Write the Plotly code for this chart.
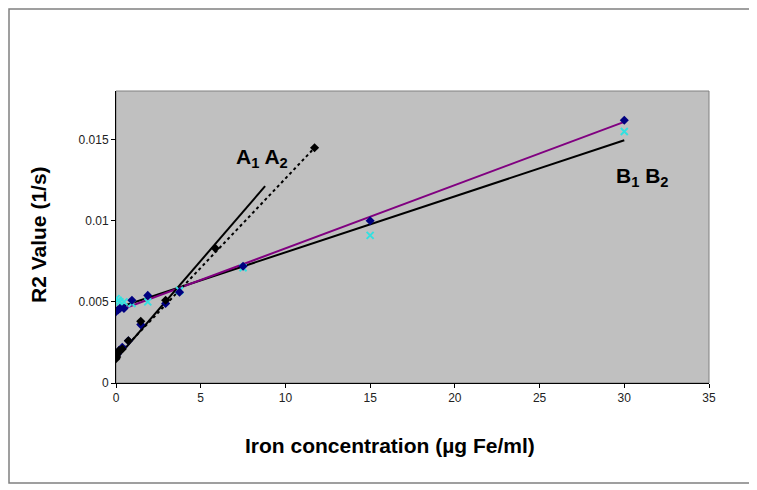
import plotly.graph_objects as go

# --- data ---
a_x = [0, 0.046, 0.09, 0.18, 0.37, 0.73, 1.46, 2.93, 5.86, 11.72]
a2_y = [0.0015, 0.0016, 0.0018, 0.0020, 0.0021, 0.0026, 0.0038, 0.0051, 0.0083, 0.0145]
a1_x = [0, 0.09, 0.18, 0.37, 0.73, 1.46, 2.93]
a1_y = [0.0017, 0.0018, 0.0020, 0.0022, 0.0026, 0.0036, 0.0049]

b_x = [0, 0.12, 0.23, 0.47, 0.94, 1.875, 3.75, 7.5, 15, 30]
b1_y = [0.0044, 0.0045, 0.0046, 0.0046, 0.0051, 0.0054, 0.0056, 0.0072, 0.0100, 0.0162]
b2_y = [0.0052, 0.0051, 0.0050, 0.0050, 0.0049, 0.0050, 0.0057, 0.0071, 0.0091, 0.0155]

# trendline end points
trend_a1_x, trend_a1_y = [0, 8.8], [0.00148, 0.01213]
trend_a2_x, trend_a2_y = [0, 11.72], [0.0016, 0.0145]
trend_b1_x, trend_b1_y = [0, 30], [0.0044, 0.0161]
trend_b2_x, trend_b2_y = [0, 30], [0.0046, 0.01496]

x_ticks = [0, 5, 10, 15, 20, 25, 30, 35]
y_ticks = [0, 0.005, 0.01, 0.015]
y_tick_text = ["0", "0.005", "0.01", "0.015"]

FONT = "Arial, Liberation Sans, sans-serif"

# page has an 8px body margin, so the figure starts at (8, 8)
PLOT_W, PLOT_H = 593, 292
L, T = 108, 83

fig = go.Figure()

# trendlines
fig.add_trace(go.Scatter(x=trend_b2_x, y=trend_b2_y, mode="lines",
                         line=dict(color="black", width=2)))
fig.add_trace(go.Scatter(x=trend_b1_x, y=trend_b1_y, mode="lines",
                         line=dict(color="#800080", width=2)))
fig.add_trace(go.Scatter(x=trend_a2_x, y=trend_a2_y, mode="lines",
                         line=dict(color="black", width=2, dash="dot")))
fig.add_trace(go.Scatter(x=trend_a1_x, y=trend_a1_y, mode="lines",
                         line=dict(color="black", width=2)))

# points
fig.add_trace(go.Scatter(x=b_x, y=b2_y, mode="markers",
                         marker=dict(symbol="x-thin-open", size=7, color="#33E0E0",
                                     line=dict(color="#33E0E0", width=2))))
fig.add_trace(go.Scatter(x=b_x, y=b1_y, mode="markers",
                         marker=dict(symbol="diamond", size=7, color="#000080")))
fig.add_trace(go.Scatter(x=a1_x, y=a1_y, mode="markers",
                         marker=dict(symbol="diamond", size=7, color="#000080")))
fig.add_trace(go.Scatter(x=a_x, y=a2_y, mode="markers",
                         marker=dict(symbol="diamond", size=7, color="black")))

fig.update_xaxes(range=[0, 35], tickvals=x_ticks, ticks="outside", ticklen=4,
                 tickcolor="black", showline=True, linecolor="black", linewidth=1,
                 showgrid=False, zeroline=False,
                 tickfont=dict(family=FONT, size=12, color="#222"))
fig.update_yaxes(range=[0, 0.018], tickvals=y_ticks, ticktext=y_tick_text,
                 ticks="outside", ticklen=4, tickcolor="black", showline=True,
                 linecolor="black", linewidth=1, showgrid=False, zeroline=False,
                 tickfont=dict(family=FONT, size=12, color="#222"))


def px_x(p):
    return (p - 116) / PLOT_W


def px_y(p):
    return (383 - p) / PLOT_H


fig.update_layout(
    width=749, height=482,
    margin=dict(l=L, r=749 - L - PLOT_W, t=T, b=482 - T - PLOT_H),
    plot_bgcolor="#C0C0C0", paper_bgcolor="white",
    showlegend=False,
    shapes=[
        # outer chart frame
        dict(type="rect", xref="paper", yref="paper",
             x0=px_x(9), x1=px_x(750), y0=px_y(483), y1=px_y(9),
             line=dict(color="#808080", width=1.5)),
        # plot area border
        dict(type="rect", xref="paper", yref="paper", x0=0, x1=1, y0=0, y1=1,
             line=dict(color="#808080", width=1), layer="below"),
    ],
    annotations=[
        dict(text="<b>A<sub>1</sub> A<sub>2</sub></b>", x=8.6, y=0.01388, xref="x", yref="y",
             xanchor="center", yanchor="middle", showarrow=False,
             font=dict(family=FONT, size=21, color="black")),
        dict(text="<b>B<sub>1</sub> B<sub>2</sub></b>", x=31.05, y=0.0127, xref="x", yref="y",
             xanchor="center", yanchor="middle", showarrow=False,
             font=dict(family=FONT, size=21, color="black")),
        dict(text="<b>Iron concentration (µg Fe/ml)</b>", x=px_x(390), y=px_y(445),
             xref="paper", yref="paper", xanchor="center", yanchor="middle",
             showarrow=False, font=dict(family=FONT, size=21, color="black")),
        dict(text="<b>R2 Value (1/s)</b>", x=px_x(38), y=px_y(235),
             xref="paper", yref="paper", xanchor="center", yanchor="middle",
             showarrow=False, textangle=-90,
             font=dict(family=FONT, size=21, color="black")),
    ],
)

fig.write_html("out.html")
